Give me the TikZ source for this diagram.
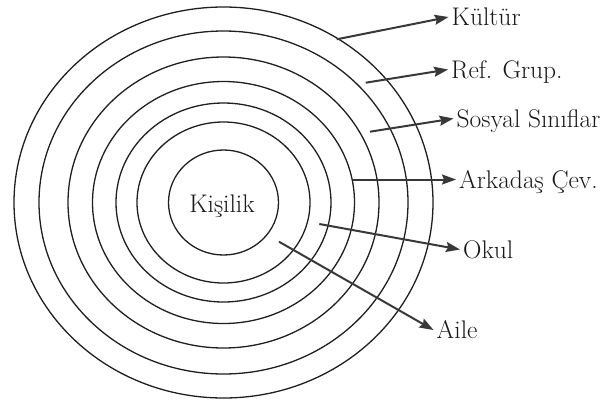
\documentclass[tikz,border=0pt]{standalone}
\usetikzlibrary{arrows.meta}
\begin{document}
\begin{tikzpicture}[x=1pt,y=-1pt,
  ring/.style={draw=black!88, line width=1.3pt},
  pointer/.style={draw=black!78, line width=2pt,
    -{Stealth[length=14pt,width=10pt,inset=2pt]}},
  txt/.style={text=black!90, font=\fontsize{25.5}{30}\selectfont},
  lbl/.style={txt, anchor=west, inner sep=0pt, inner xsep=3pt,
    text height=17pt, text depth=0pt},
]
\useasboundingbox (0,0) rectangle (605,405);

% concentric rings
\coordinate (c) at (223.5,202.5);
\foreach \rx/\ry in {55/52.5, 86.5/80.5, 107.5/99.5, 131/121,
                     155.5/145.5, 184.5/171.5, 209.5/195.5}
  \draw[ring] (c) ellipse [x radius=\rx, y radius=\ry];

% centre label
\node[txt, inner sep=0pt, anchor=base] (kisilik) at (222,212.5) {Kişilik};

% outer labels
\node[lbl] (kultur)  at (448.5,17)   {Kültür};
\node[lbl] (refgrup) at (448,69.5)   {Ref. Grup.};
\node[lbl] (sosyal)  at (453.5,118.5){Sosyal Sınıflar};
\node[lbl] (arkadas) at (456,179.5)  {Arkadaş Çev.};
\node[lbl] (okul)    at (460,249.5)  {Okul};
\node[lbl] (aile)    at (433.5,330)  {Aile};

% arrow origins on the rings
\coordinate (s1) at (336.7,39.3);
\coordinate (s2) at (365.7,82.7);
\coordinate (s3) at (370,131.7);
\coordinate (s4) at (352.7,179.5);
\coordinate (s5) at (319.3,224);
\coordinate (s6) at (279,241.7);

\draw[pointer] (s1) -- (kultur.west);
\draw[pointer] (s2) -- (refgrup.west);
\draw[pointer] (s3) -- (sosyal.west);
\draw[pointer] (s4) -- (arkadas.west);
\draw[pointer] (s5) -- (okul.west);
\draw[pointer] (s6) -- (aile.west);
\end{tikzpicture}
\end{document}
